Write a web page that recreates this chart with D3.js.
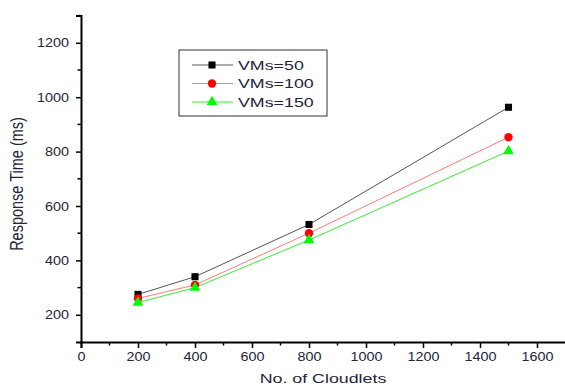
<!DOCTYPE html>
<html>
<head>
<meta charset="utf-8">
<script src="https://cdn.jsdelivr.net/npm/d3@7"></script>
<style>
  body { margin: 0; background: #fff; }
  svg { display: block; font-family: "Liberation Sans", Arial, sans-serif; }
</style>
</head>
<body>
<svg id="chart" width="565" height="388"></svg>
<script>
const cloudlets = [200, 400, 800, 1500];
const vms50 = [275, 340, 532, 963];
const vms100 = [260, 310, 500, 853];
const vms150 = [245, 300, 475, 802];
const seriesNames = ["VMs=50", "VMs=100", "VMs=150"];
const xTicks = [0, 200, 400, 600, 800, 1000, 1200, 1400, 1600];
const yTicks = [200, 400, 600, 800, 1000, 1200];

const series = [
  { name: seriesNames[0], values: vms50, line: "#555", fill: "#000", shape: d3.symbolSquare, size: 50 },
  { name: seriesNames[1], values: vms100, line: "#ff7b7b", fill: "#ff0000", shape: d3.symbolCircle, size: 55 },
  { name: seriesNames[2], values: vms150, line: "#33ee33", fill: "#00ff00", shape: d3.symbolTriangle, size: 50 }
];

const svg = d3.select("#chart");
const left = 81, bottom = 342;
const textColor = "#24243a";

const x = d3.scaleLinear().domain([0, 1700]).range([left, left + 57 * 8.5]);
const y = d3.scaleLinear().domain([100, 1300]).range([bottom, bottom - 54.4 * 6]);

// minor ticks every 100 between labelled ones
const xMinor = d3.range(100, 1700, 200);
const yMinor = d3.range(300, 1400, 200);

const xAxis = svg.append("g").attr("transform", `translate(0,${bottom})`)
  .call(d3.axisBottom(x).tickValues(xTicks).tickSize(6).tickPadding(4).tickFormat(d3.format("d")));
svg.append("g").attr("transform", `translate(0,${bottom})`)
  .selectAll("line").data(xMinor).join("line")
  .attr("x1", d => x(d)).attr("x2", d => x(d))
  .attr("y1", 0).attr("y2", 3.5)
  .attr("stroke", "#000").attr("stroke-width", 1.5);

const yAxis = svg.append("g").attr("transform", `translate(${left},0)`)
  .call(d3.axisLeft(y).tickValues(yTicks).tickSize(5).tickPadding(4).tickFormat(d3.format("d")));
svg.append("g").attr("transform", `translate(${left},0)`)
  .selectAll("line").data(yMinor).join("line")
  .attr("x1", 0).attr("x2", -3.5)
  .attr("y1", d => y(d)).attr("y2", d => y(d))
  .attr("stroke", "#000").attr("stroke-width", 1.5);

[xAxis, yAxis].forEach(a => {
  a.select(".domain").attr("stroke", "#000").attr("stroke-width", 2);
  a.selectAll(".tick line").attr("stroke", "#000").attr("stroke-width", 1.5);
  a.selectAll(".tick text").attr("fill", textColor).style("font-size", "12.5px");
});
// the source picture is stretched sideways, so widen the glyphs a little
xAxis.selectAll(".tick text").attr("transform", "scale(1.15,1)");
yAxis.selectAll(".tick text").attr("x", 0)
  .attr("transform", "translate(-12,0) scale(1.15,1)");

svg.append("text")
  .attr("transform", `translate(${(left + 565) / 2},383) scale(1.37,1)`)
  .attr("text-anchor", "middle").attr("fill", textColor)
  .style("font-size", "13px").text("No. of Cloudlets");

svg.append("text")
  .attr("transform", `translate(23,184) rotate(-90) scale(1,1.25)`)
  .attr("text-anchor", "middle").attr("fill", textColor)
  .style("font-size", "14.5px").text("Response Time (ms)");

const line = d3.line().x((d, i) => x(cloudlets[i])).y(d => y(d));

series.forEach(s => {
  svg.append("path").datum(s.values)
    .attr("d", line).attr("fill", "none")
    .attr("stroke", s.line).attr("stroke-width", 1);
});
series.forEach(s => {
  svg.append("g").selectAll("path").data(s.values).join("path")
    .attr("transform", (d, i) => `translate(${x(cloudlets[i])},${y(d)})`)
    .attr("d", d3.symbol().type(s.shape).size(s.size))
    .attr("fill", s.fill);
});

// legend
const legend = svg.append("g").attr("transform", "translate(179,50)");
legend.append("rect").attr("width", 148).attr("height", 66)
  .attr("fill", "#fff").attr("stroke", "#333").attr("stroke-width", 1);
series.forEach((s, i) => {
  const g = legend.append("g").attr("transform", `translate(0,${15 + i * 18.5})`);
  g.append("line").attr("x1", 13).attr("x2", 54).attr("stroke", s.line).attr("stroke-width", 1);
  g.append("path").attr("transform", "translate(33,0)")
    .attr("d", d3.symbol().type(s.shape).size(s.size)).attr("fill", s.fill);
  g.append("text").attr("transform", "translate(59,0) scale(1.37,1)").attr("dy", "0.36em")
    .attr("fill", textColor).style("font-size", "13px").text(s.name);
});
</script>
</body>
</html>
